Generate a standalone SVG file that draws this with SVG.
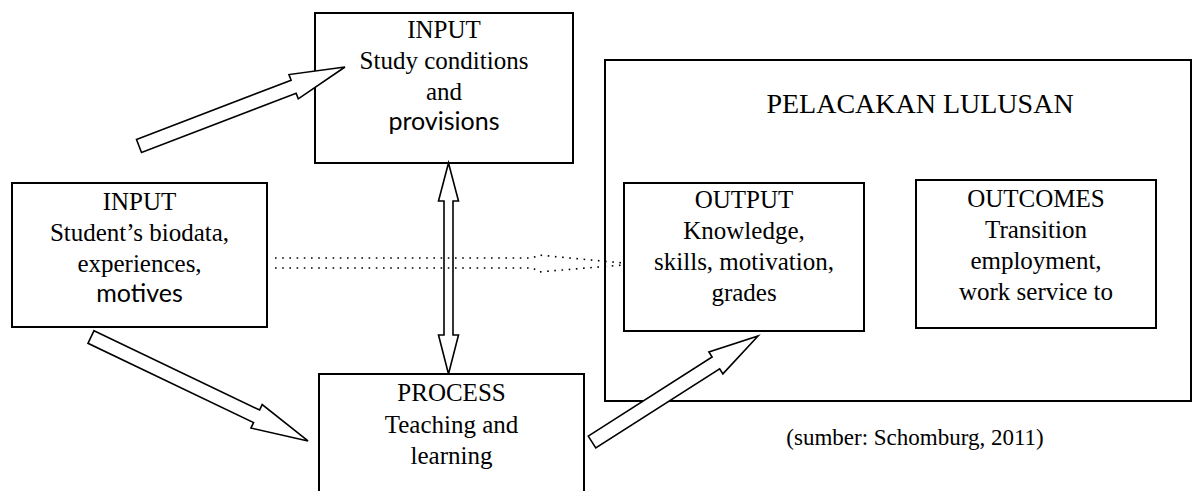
<svg xmlns="http://www.w3.org/2000/svg" width="1192" height="491" viewBox="0 0 1192 491">
<style>
.box{fill:none;stroke:#000;stroke-width:2}
.t{font-family:"Liberation Serif","Times New Roman",serif;font-size:25px;fill:#000;text-anchor:middle}
.s{font-family:Lato,"Open Sans",sans-serif;font-size:25px;fill:#000;text-anchor:middle}
.arr{fill:#fff;stroke:#000;stroke-width:1.6;stroke-linejoin:miter}
.dot{fill:none;stroke:#000;stroke-width:1.6;stroke-dasharray:1.6 5.6}
</style>
<rect width="1192" height="491" fill="#fff"/>
<g id="pelacakan">
<rect class="box" x="605" y="60" width="586" height="341"/>
<text class="t" x="920" y="113" style="font-size:28px">PELACAKAN LULUSAN</text>
</g>
<g id="input-study">
<rect class="box" x="315" y="13" width="258" height="150"/>
<text class="t" x="444" y="38">INPUT</text>
<text class="t" x="444" y="69">Study conditions</text>
<text class="t" x="444" y="100">and</text>
<text class="s" x="444" y="130">provisions</text>
</g>
<g id="input-student">
<rect class="box" x="12" y="183" width="255" height="144"/>
<text class="t" x="139.5" y="210">INPUT</text>
<text class="t" x="139.5" y="241">Student’s biodata,</text>
<text class="t" x="139.5" y="272">experiences,</text>
<text class="s" x="139.5" y="302">motives</text>
</g>
<g id="process">
<rect class="box" x="319" y="374" width="265" height="130"/>
<text class="t" x="451.5" y="401">PROCESS</text>
<text class="t" x="451.5" y="433">Teaching and</text>
<text class="t" x="451.5" y="464">learning</text>
</g>
<g id="output">
<rect class="box" x="624" y="183" width="240" height="148"/>
<text class="t" x="744" y="208">OUTPUT</text>
<text class="t" x="744" y="239">Knowledge,</text>
<text class="t" x="744" y="270">skills, motivation,</text>
<text class="t" x="744" y="301">grades</text>
</g>
<g id="outcomes">
<rect class="box" x="916" y="180" width="240" height="148"/>
<text class="t" x="1036" y="207">OUTCOMES</text>
<text class="t" x="1036" y="238">Transition</text>
<text class="t" x="1036" y="269">employment,</text>
<text class="t" x="1036" y="300">work service to</text>
</g>
<g id="caption">
<text class="t" x="915" y="445" style="font-size:23px">(sumber: Schomburg, 2011)</text>
</g>
<g id="connectors">
<polygon class="arr" transform="translate(139,146) rotate(-20.98)" points="0,-7 165.6,-7 165.6,-13 220.6,0 165.6,13 165.6,7 0,7"/>
<polygon class="arr" transform="translate(91,337) rotate(25.6)" points="0,-7 183.6,-7 183.6,-13 240.6,0 183.6,13 183.6,7 0,7"/>
<polygon class="arr" transform="translate(592,442) rotate(-32.56)" points="0,-7 147,-7 147,-13 197,0 147,13 147,7 0,7"/>
<polygon class="arr" points="448.5,163 458.5,201 453,201 453,335 458.5,335 448.5,374 438.5,335 444,335 444,201 438.5,201"/>
<path class="dot" d="M275,258 H533 L538,255 L623,263"/>
<path class="dot" d="M275,268 H533 L538,272 L623,265"/>
</g>
</svg>
